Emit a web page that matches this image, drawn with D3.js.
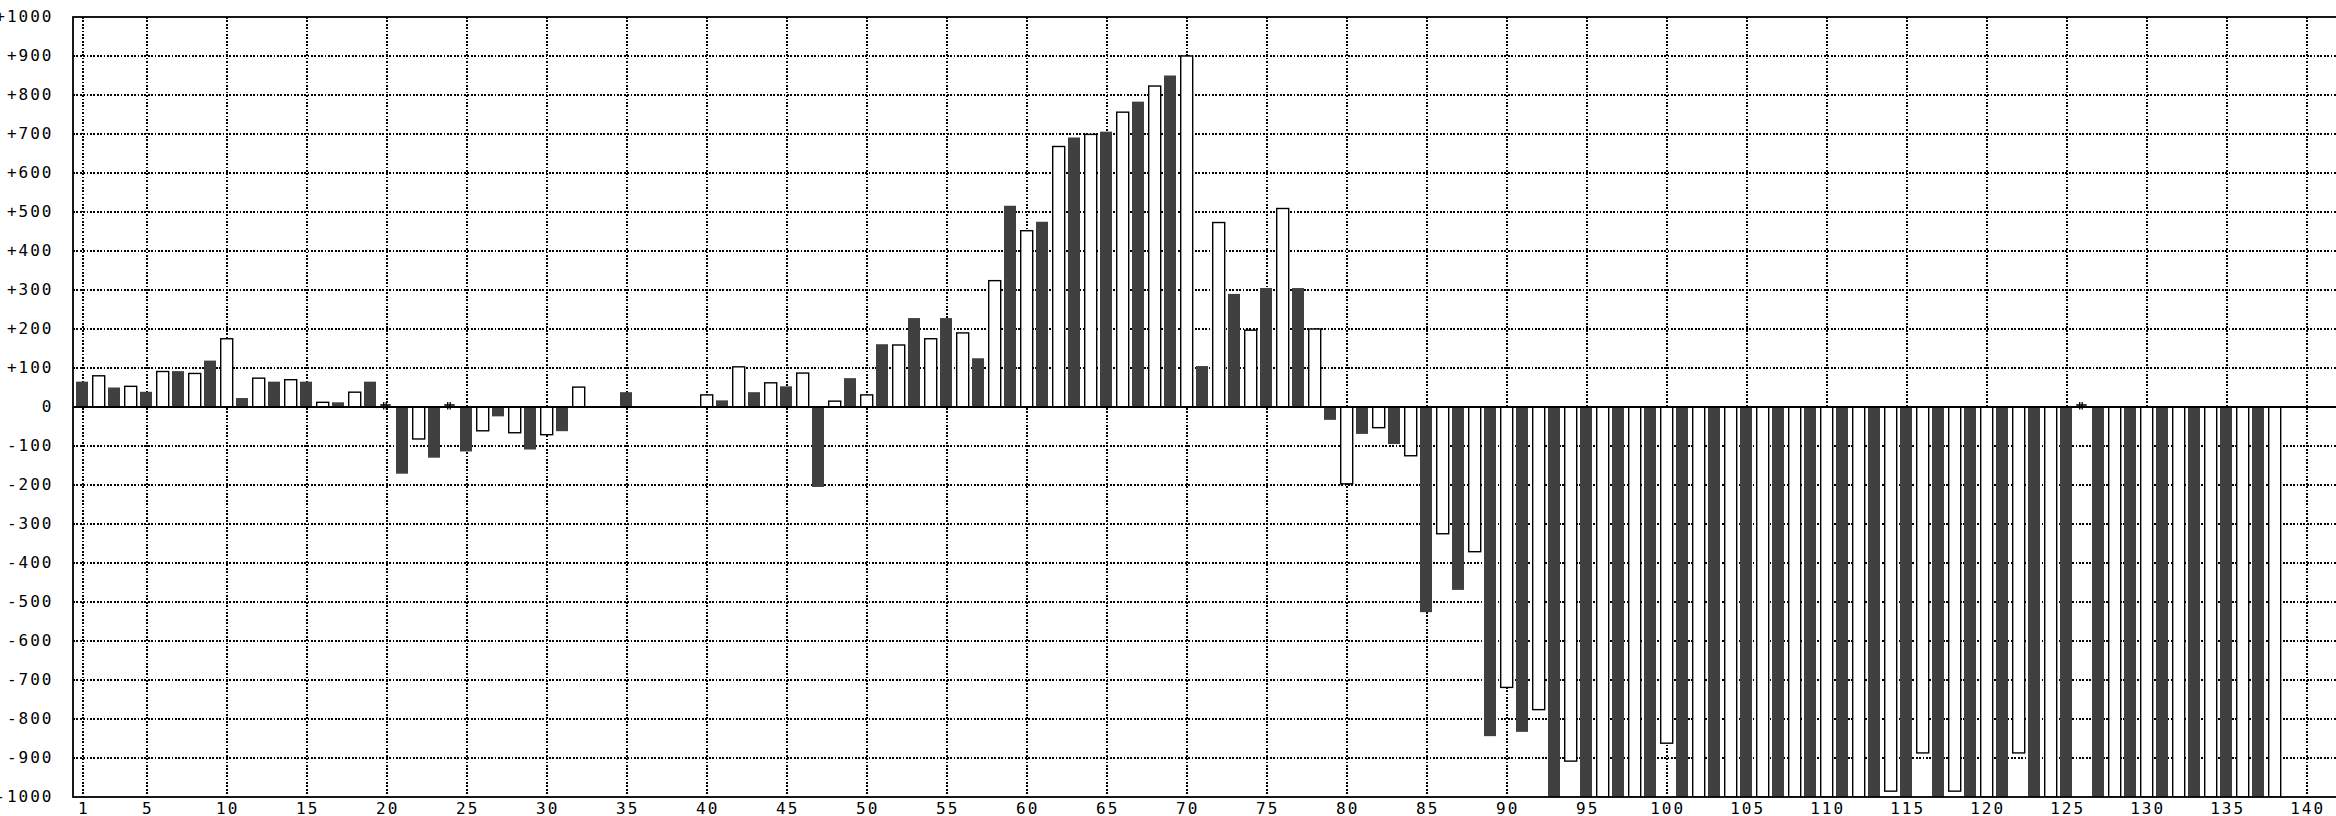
<!DOCTYPE html>
<html>
<head>
<meta charset="utf-8">
<script src="https://cdn.jsdelivr.net/npm/d3@7"></script>
<style>
  html, body { margin: 0; padding: 0; background: #fff; }
  svg { display: block; }
  text { font-family: "DejaVu Sans Mono", "Liberation Mono", monospace; font-size: 16px; fill: #000; letter-spacing: 2px; }
</style>
</head>
<body>
<svg id="chart" width="2336" height="816"></svg>
<script>
// ---- data ----
// dark (filled) series sits at odd positions 1,3,5,...,137
const darkPositions = d3.range(1, 139, 2);
const darkValues = [
  65, 50, 39, 92, 119, 23, 65, 65, 12, 65,          // 1..19
  -171, -130, -114, -24, -109, -62, null, 38, null, null, // 21..39
  17, 38, 53, -205, 74, 161, 228, 228, 125, 516,     // 41..59
  475, 691, 706, 783, 850, 105, 290, 305, 305, -33,  // 61..79
  -69, -95, -526, -469, -844, -833, -1000, -1000, -1000, -1000, // 81..99
  -1000, -1000, -1000, -1000, -1000, -1000, -1000, -1000, -1000, -1000, // 101..119
  -1000, -1000, -1000, -1000, -1000, -1000, -1000, -1000, -1000  // 121..137
];
// light (outlined) series sits at even positions 2,4,6,...,138
const lightPositions = d3.range(2, 140, 2);
const lightValues = [
  80, 53, 91, 86, 175, 74, 70, 12, 38, 0,           // 2..20
  -82, 0, -61, -66, -71, 51, null, null, null, 31,   // 22..40
  103, 62, 87, 15, 31, 159, 175, 190, 324, 452,      // 42..60
  668, 699, 756, 823, 900, 473, 197, 509, 200, -197, // 62..80
  -53, -125, -325, -371, -719, -776, -908, -1000, -1000, -862, // 82..100
  -1000, -1000, -1000, -1000, -1000, -1000, -985, -887, -985, -1000, // 102..120
  -887, -1000, 0, -1000, -1000, -1000, -1000, -1000, -1000   // 122..138
];
const xTickValues = [1, 5, 10, 15, 20, 25, 30, 35, 40, 45, 50, 55, 60, 65, 70, 75, 80, 85, 90, 95, 100, 105, 110, 115, 120, 125, 130, 135, 140];
const yTickValues = [1000, 900, 800, 700, 600, 500, 400, 300, 200, 100, 0, -100, -200, -300, -400, -500, -600, -700, -800, -900, -1000];
const yTickLabels = ["+1000", "+900", "+800", "+700", "+600", "+500", "+400", "+300", "+200", "+100", "0", "-100", "-200", "-300", "-400", "-500", "-600", "-700", "-800", "-900", "-1000"];

// ---- layout ----
const svg = d3.select("#chart");
const plotLeft = 73, plotTop = 17, plotBottom = 797, plotRight = 2350;
const x = d3.scaleLinear().domain([0, 140]).range([66.7, 66.7 + 2240]);
const y = d3.scaleLinear().domain([-1000, 1000]).range([plotBottom, plotTop]);
const y0 = y(0);

svg.append("defs").append("clipPath").attr("id", "plotclip")
  .append("rect").attr("x", plotLeft).attr("y", plotTop).attr("width", plotRight - plotLeft).attr("height", plotBottom - plotTop);

const plot = svg.append("g").attr("clip-path", "url(#plotclip)");

// dotted gridlines
const gridStyle = sel => sel.attr("stroke", "#000").attr("stroke-width", 1.6)
  .attr("stroke-dasharray", "1.7 1.7").attr("shape-rendering", "crispEdges");
plot.append("g").selectAll("line")
  .data(yTickValues.filter(v => v !== 0 && Math.abs(v) < 1000))
  .join("line")
  .attr("x1", plotLeft).attr("x2", plotRight)
  .attr("y1", d => Math.round(y(d))).attr("y2", d => Math.round(y(d)))
  .call(gridStyle);
plot.append("g").selectAll("line")
  .data(xTickValues)
  .join("line")
  .attr("x1", d => Math.round(x(d))).attr("x2", d => Math.round(x(d)))
  .attr("y1", plotTop).attr("y2", plotBottom)
  .call(gridStyle);

// dark bars
const darkData = darkPositions.map((p, i) => ({ p, v: darkValues[i] })).filter(d => d.v !== null && d.v !== 0);
plot.append("g").selectAll("rect")
  .data(darkData)
  .join("rect")
  .attr("x", d => x(d.p) - 6.7)
  .attr("width", 12)
  .attr("y", d => Math.min(y(d.v), y0))
  .attr("height", d => Math.abs(y(d.v) - y0))
  .attr("fill", "#404040");

// light bars
const lightData = lightPositions.map((p, i) => ({ p, v: lightValues[i] })).filter(d => d.v !== null);
plot.append("g").selectAll("rect")
  .data(lightData.filter(d => d.v !== 0))
  .join("rect")
  .attr("x", d => x(d.p) - 6)
  .attr("width", 12)
  .attr("y", d => Math.min(y(d.v), y0))
  .attr("height", d => Math.abs(y(d.v) - y0))
  .attr("fill", "#fff")
  .attr("stroke", "#000")
  .attr("stroke-width", 1.4);

// zero-height light bars drawn as small marks
plot.append("g").selectAll("path")
  .data(lightData.filter(d => d.v === 0))
  .join("path")
  .attr("d", d => {
    const cx = x(d.p);
    return `M${cx - 6.5},${y0 - 2}H${cx + 4}M${cx - 3},${y0 - 5}V${y0 + 2.5}M${cx - 0.5},${y0 - 5}V${y0 + 2.5}`;
  })
  .attr("fill", "none").attr("stroke", "#000").attr("stroke-width", 1.3);

// zero line
svg.append("line")
  .attr("x1", plotLeft).attr("x2", plotRight)
  .attr("y1", y0).attr("y2", y0)
  .attr("stroke", "#000").attr("stroke-width", 2);

// border
svg.append("rect")
  .attr("x", plotLeft).attr("y", plotTop)
  .attr("width", plotRight - plotLeft).attr("height", plotBottom - plotTop)
  .attr("fill", "none").attr("stroke", "#000").attr("stroke-width", 1.8);

// y labels
svg.append("g").selectAll("text")
  .data(yTickValues)
  .join("text")
  .attr("x", 51.5 + 2)
  .attr("y", d => y(d) + 5)
  .attr("text-anchor", "end")
  .text((d, i) => yTickLabels[i]);

// x labels
svg.append("g").selectAll("text")
  .data(xTickValues)
  .join("text")
  .attr("x", d => x(d) + 1)
  .attr("y", 813.5)
  .attr("text-anchor", "middle")
  .text(d => String(d));
</script>
</body>
</html>
